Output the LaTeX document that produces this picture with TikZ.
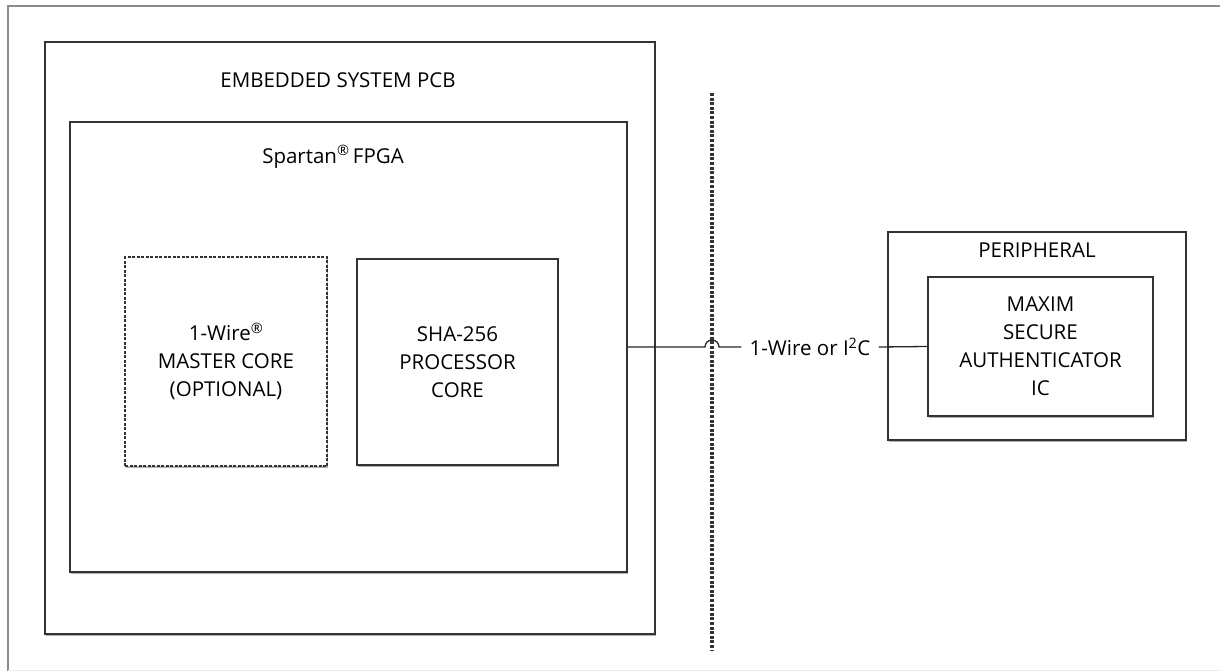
\documentclass[tikz,border=0pt]{standalone}
\usepackage{fontspec}
\setmainfont{Open Sans}
\usetikzlibrary{shadows}
\tikzset{
	box/.style 2 args={draw=black!80,line width=1.5pt,fill=white,minimum width=#1,minimum height=#2,inner sep=0pt,align=center,
		drop shadow={shadow xshift=1pt,shadow yshift=-1.5pt,fill=black!30,opacity=1}},
	dbox/.style 2 args={box={#1}{#2},dashed,dash pattern=on 3pt off 1.5pt},
	lbl/.style={inner sep=0pt,align=center},
	divider/.style={draw=black!80,line width=3.4pt,dash pattern=on 3pt off 1.6pt},
	wire/.style={draw=black!85,line width=1.3pt}
}
\newcommand{\regmark}{\textsuperscript{®}}

\begin{document}
\begin{tikzpicture}[x=1pt,y=-1pt,font=\fontsize{20.5}{28}\selectfont]
	\useasboundingbox (0,0) rectangle (1220,671);
	% frame of the page
	\draw [black!45,line width=1.5pt] (8,671) -- (8,6) -- (1220,6);
	\draw [black!8,line width=1pt] (8,670) -- (1220,670);

	% left side: board and fpga
	\node [box={610pt}{592pt}] (pcb) at (350,338) {};
	\node [lbl] (pcbname) at (338,80) {EMBEDDED SYSTEM PCB};
	\node [box={557pt}{450pt}] (fpga) at (348.5,347) {};
	\node [lbl] (fpganame) at (333,157) {Spartan\regmark\,FPGA};
	\node [dbox={202pt}{209pt}] (master) at (226,361.5) {1-Wire\regmark\\MASTER CORE\\(OPTIONAL)};
	\node [box={201pt}{206pt}] (sha) at (457.5,362) {SHA-256\\PROCESSOR\\CORE};

	% divider
	\coordinate (divtop) at (712,93);
	\coordinate (divbot) at (712,650);
	\draw [divider] (divtop) -- (divbot);

	% right side: peripheral
	\node [box={298pt}{208pt}] (periph) at (1037,336) {};
	\node [lbl] (periphname) at (1037,250) {PERIPHERAL};
	\node [box={225pt}{139pt}] (ic) at (1040.5,346.5) {MAXIM\\SECURE\\AUTHENTICATOR\\IC};

	% bus
	\node [lbl,inner sep=8pt] (bus) at (810,347) {1-Wire or I\textsuperscript{2}C};
	\coordinate (hop) at (712,347);
	\draw [wire] (fpga.east) -- ([xshift=-7pt]hop) arc[start angle=180,end angle=360,radius=7] -- (bus.west);
	\draw [wire] (bus.east) -- (ic.west);
\end{tikzpicture}
\end{document}
